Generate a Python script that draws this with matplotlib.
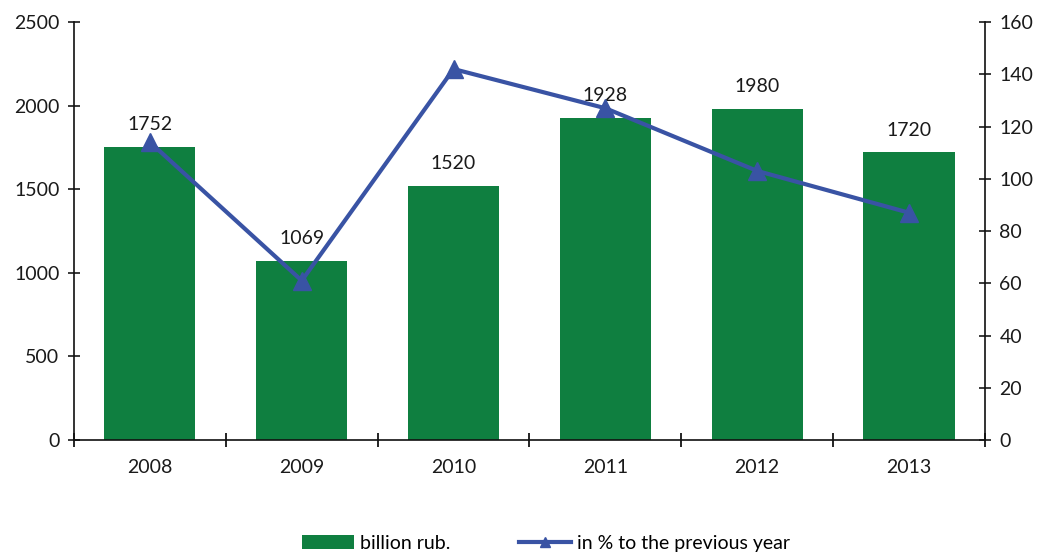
import matplotlib.pyplot as plt
import numpy as np

years = ['2008', '2009', '2010', '2011', '2012', '2013']
billion_rub = [1752, 1069, 1520, 1928, 1980, 1720]
pct_prev = [114, 61, 142, 127, 103, 87]

green = '#0f7f40'
blue = '#3953a4'
txt = '#1a1a1a'

plt.rcParams['font.family'] = ['Lato', 'DejaVu Sans']
plt.rcParams['font.size'] = 14

fig = plt.figure(figsize=(10.4, 5.53), dpi=100)
ax = fig.add_axes([0.0712, 0.2043, 0.8758, 0.7559])
ax2 = ax.twinx()

x = np.arange(len(years))
bars = ax.bar(x, billion_rub, width=0.6, color=green, label='billion rub.')
for xi, v in zip(x, billion_rub):
    ax.annotate(str(v), (xi, v), xytext=(0, 10), textcoords='offset points',
                ha='center', va='bottom', color=txt, fontsize=14)

line, = ax2.plot(x, pct_prev, color=blue, lw=3, marker='^', markersize=13,
                 label='in % to the previous year')

ax.set_xlim(-0.5, len(years) - 0.5)
ax.set_ylim(0, 2500)
ax.set_yticks(range(0, 2501, 500))
ax2.set_ylim(0, 160)
ax2.set_yticks(range(0, 161, 20))

ax.set_xticks(np.arange(-0.5, len(years)), [''] * (len(years) + 1))
ax.set_xticks(x, years, minor=True)
ax.tick_params(axis='x', which='minor', length=0, pad=14, colors=txt)
ax.tick_params(axis='x', which='major', direction='inout', length=10, width=1.2)
ax.tick_params(axis='y', direction='inout', length=9, width=1.2, colors=txt, pad=6)
ax2.tick_params(axis='y', direction='inout', length=9, width=1.2, colors=txt, pad=6)

for a in (ax, ax2):
    a.spines['top'].set_visible(False)
    for s in ('left', 'right', 'bottom'):
        a.spines[s].set_linewidth(1.2)
        a.spines[s].set_color('#111111')
ax.spines['right'].set_visible(False)
ax2.spines['left'].set_visible(False)
ax2.spines['bottom'].set_visible(False)

fig.legend([bars, line], ['billion rub.', 'in % to the previous year'],
           loc='lower center', bbox_to_anchor=(0.525, -0.03), ncol=2, frameon=False,
           handlelength=2.7, handletextpad=0.3, columnspacing=3.5, fontsize=14,
           markerscale=0.5)

plt.savefig('out.png', dpi=100)
